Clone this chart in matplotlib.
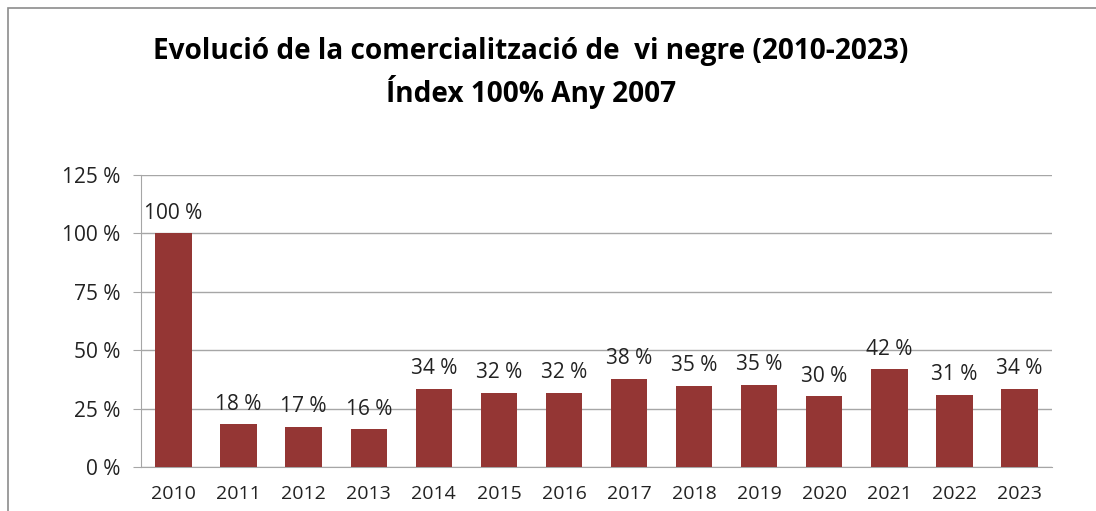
import matplotlib.pyplot as plt
from matplotlib.patches import Rectangle

plt.rcParams['font.family'] = ['Open Sans', 'DejaVu Sans']

years = ['2010', '2011', '2012', '2013', '2014', '2015', '2016',
         '2017', '2018', '2019', '2020', '2021', '2022', '2023']
index_pct = [100, 18.2, 17.1, 16.1, 33.6, 31.8, 31.8,
             37.6, 34.7, 35.1, 30.2, 41.8, 30.8, 33.6]
y_ticks = [0, 25, 50, 75, 100, 125]

bar_color = '#943634'
grid_color = '#a6a6a6'

fig = plt.figure(figsize=(10.96, 5.11), dpi=100)
W, H = 1096, 511
ax = fig.add_axes([141 / W, 1 - 467 / H, (1052 - 141) / W, (467 - 175) / H])

x = range(len(years))
bars = ax.bar(x, index_pct, width=0.56, color=bar_color, zorder=3)

for b, v in zip(bars, index_pct):
    ax.annotate(f'{v:.0f} %', (b.get_x() + b.get_width() / 2, v),
                xytext=(0, 7), textcoords='offset points',
                ha='center', va='bottom', fontsize=15, color='#222222')

ax.set_xlim(-0.5, len(years) - 0.5)
ax.set_ylim(0, 125)
ax.set_yticks(y_ticks)
ax.set_yticklabels([f'{t} %' for t in y_ticks])
ax.set_xticks(list(x))
ax.set_xticklabels(years)
ax.tick_params(axis='y', length=6, color=grid_color, labelsize=15, pad=9, labelcolor='#222222')
ax.tick_params(axis='x', length=0, labelsize=14, pad=13, labelcolor='#222222')
ax.grid(axis='y', color=grid_color, linewidth=1, zorder=0)
for s in ['top', 'right']:
    ax.spines[s].set_visible(False)
ax.spines['left'].set_color(grid_color)
ax.spines['bottom'].set_color(grid_color)

fig.text(531 / W, 1 - 52 / H, 'Evolució de la comercialització de  vi negre (2010-2023)',
         ha='center', va='center', fontsize=20.2, fontweight='bold')
fig.text(531 / W, 1 - 92 / H, 'Índex 100% Any 2007',
         ha='center', va='center', fontsize=20.2, fontweight='bold')

fig.patches.append(Rectangle((8 / W, -0.1), 1.2, 1 - 8 / H + 0.1,
                             transform=fig.transFigure, fill=False,
                             edgecolor='#8c8c8c', linewidth=1.2))

fig.savefig('out.png', dpi=100)
